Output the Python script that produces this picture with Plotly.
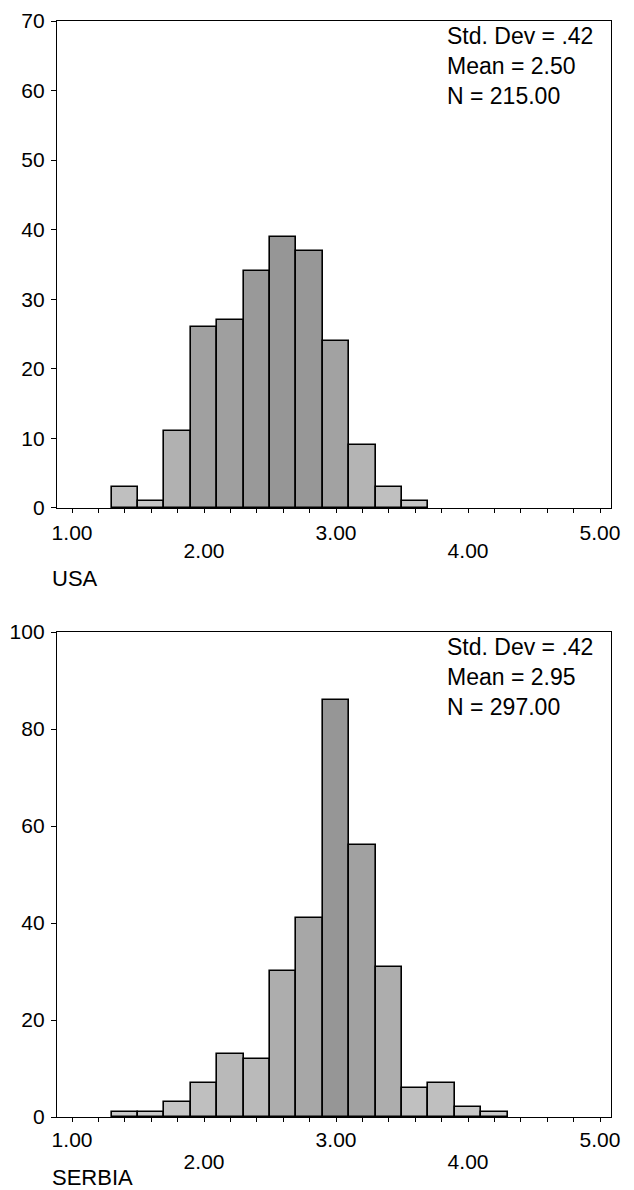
import plotly.graph_objects as go

# ---- data ----
bin_centers = [1.4, 1.6, 1.8, 2.0, 2.2, 2.4, 2.6, 2.8, 3.0, 3.2, 3.4, 3.6, 3.8, 4.0, 4.2]
usa_counts = [3, 1, 11, 26, 27, 34, 39, 37, 24, 9, 3, 1]
serbia_counts = [1, 1, 3, 7, 13, 12, 30, 41, 86, 56, 31, 6, 7, 2, 1]
bin_width = 0.2

odd_tick_vals = [1, 3, 5]
odd_tick_text = ["1.00", "3.00", "5.00"]
even_tick_vals = [2, 4]
even_tick_text = ["2.00", "4.00"]

usa_stats = ["Std. Dev = .42", "Mean = 2.50", "N = 215.00"]
serbia_stats = ["Std. Dev = .42", "Mean = 2.95", "N = 297.00"]
panel_labels = ["USA", "SERBIA"]

FONT = "Liberation Sans, Arial, sans-serif"
TICKSZ = 21


def shades(counts, lo, hi):
    m = max(counts)
    out = []
    for c in counts:
        r = (c / m) ** 0.5
        g = int(hi - (hi - lo) * r)
        out.append(f"rgb({g},{g},{g})")
    return out


fig = go.Figure()

for i, counts in enumerate([usa_counts, serbia_counts]):
    sfx = "" if i == 0 else "2"
    fig.add_trace(go.Bar(
        x=bin_centers[:len(counts)], y=counts, width=bin_width,
        xaxis="x" + sfx, yaxis="y" + sfx,
        marker=dict(
            color=shades(counts, 150, 208),
            line=dict(color="black", width=1.6),
        ),
        showlegend=False, hoverinfo="x+y",
    ))

axis_common = dict(
    showline=True, linecolor="black", linewidth=1.3, mirror=True,
    showgrid=False, zeroline=False, ticks="outside", tickcolor="black",
    automargin=False,
    tickfont=dict(family=FONT, size=TICKSZ, color="black"),
)

XR = [0.886, 5.083]
minor = dict(tickmode="linear", tick0=1, dtick=0.2, ticks="outside",
             ticklen=4, tickcolor="black")

fig.update_layout(
    width=634, height=1190,
    margin=dict(l=57, r=23, t=21, b=73),
    paper_bgcolor="white", plot_bgcolor="white",
    bargap=0,
    font=dict(family=FONT, size=TICKSZ, color="black"),
    xaxis=dict(**axis_common, domain=[0, 1], anchor="y", range=XR,
               tickmode="array", tickvals=odd_tick_vals, ticktext=odd_tick_text,
               ticklen=4, ticklabelstandoff=2, minor=minor),
    xaxis3=dict(**axis_common, overlaying="x", anchor="y", range=XR,
                tickmode="array", tickvals=even_tick_vals, ticktext=even_tick_text,
                ticklen=4, ticklabelstandoff=20),
    yaxis=dict(**axis_common, domain=[0.5557, 1], anchor="x", range=[0, 70],
               dtick=10, ticklen=5, ticklabelstandoff=2),
    xaxis2=dict(**axis_common, domain=[0, 1], anchor="y2", range=XR,
                tickmode="array", tickvals=odd_tick_vals, ticktext=odd_tick_text,
                ticklen=4, ticklabelstandoff=0, minor=minor),
    xaxis4=dict(**axis_common, overlaying="x2", anchor="y2", range=XR,
                tickmode="array", tickvals=even_tick_vals, ticktext=even_tick_text,
                ticklen=4, ticklabelstandoff=22),
    yaxis2=dict(**axis_common, domain=[0, 0.4425], anchor="x2", range=[0, 100],
                dtick=20, ticklen=5, ticklabelstandoff=2),
)

# invisible traces so the overlaid label axes are drawn
for xa, ya in [("x3", "y"), ("x4", "y2")]:
    fig.add_trace(go.Scatter(x=[XR[0]], y=[0], xaxis=xa, yaxis=ya, mode="markers",
                             marker=dict(opacity=0), showlegend=False, hoverinfo="skip"))

label_shift = [-56, -46]
for i, (stats, lab) in enumerate([(usa_stats, panel_labels[0]), (serbia_stats, panel_labels[1])]):
    sfx = "" if i == 0 else "2"
    fig.add_annotation(
        xref=f"x{sfx} domain", yref=f"y{sfx} domain", x=0.70, y=1,
        xanchor="left", yanchor="top", yshift=0, align="left",
        text="<br>".join(stats), showarrow=False,
        font=dict(family=FONT, size=23, color="black"),
    )
    fig.add_annotation(
        xref=f"x{sfx} domain", yref=f"y{sfx} domain", x=0.0, y=0,
        xanchor="left", yanchor="top", yshift=label_shift[i], xshift=-7,
        text=lab, showarrow=False,
        font=dict(family=FONT, size=22, color="black"),
    )

fig.write_html("out.html", config={"displayModeBar": False},
               post_script="document.body.style.margin='0px';document.body.style.overflow='hidden';")
